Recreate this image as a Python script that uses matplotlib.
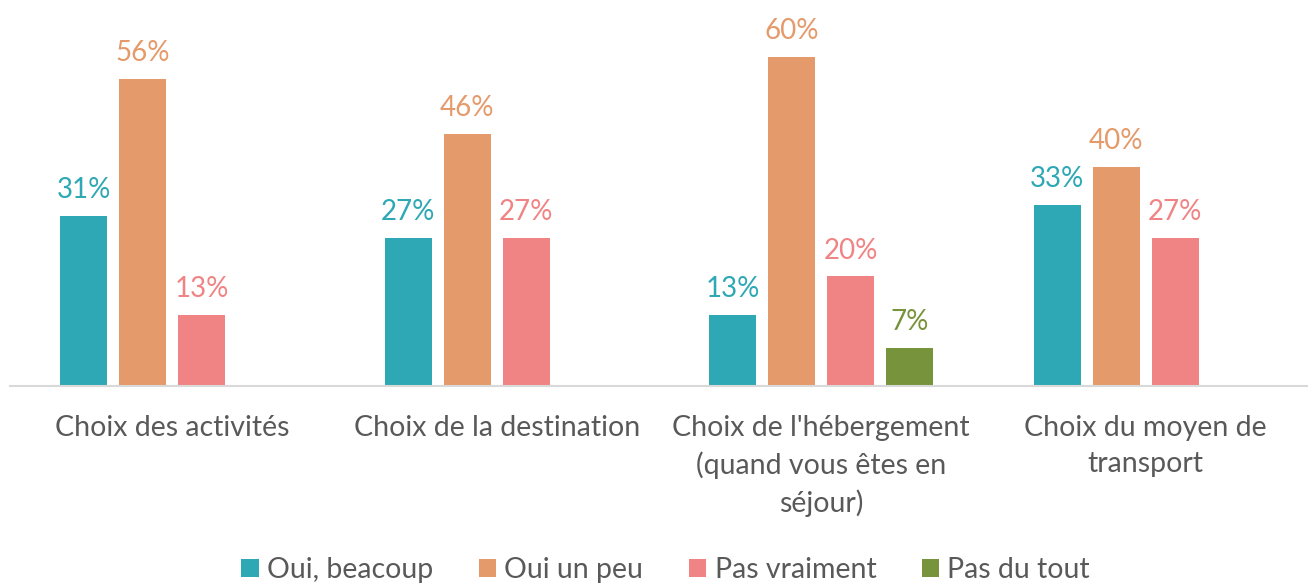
import matplotlib.pyplot as plt
import numpy as np

plt.rcParams['font.family'] = ['Lato', 'DejaVu Sans']

categories = ['Choix des activités', 'Choix de la destination',
              "Choix de l'hébergement\n(quand vous êtes en\nséjour)",
              'Choix du moyen de\ntransport']
series = ['Oui, beacoup', 'Oui un peu', 'Pas vraiment', 'Pas du tout']
values = [
    [31, 27, 13, 33],
    [56, 46, 60, 40],
    [13, 27, 20, 27],
    [0, 0, 7, 0],
]
colors = ['#2EA8B4', '#E59A6B', '#F08484', '#77933C']

fig = plt.figure(figsize=(13.08, 5.85), dpi=100)
ax = fig.add_axes([10/1308, 199/585, 1298/1308, 386/585])

x = np.arange(len(categories))
width = 0.145
step = 0.182
for i, (name, vals, col) in enumerate(zip(series, values, colors)):
    pos = x + (i - 1.5) * step
    ax.bar(pos, vals, width, color=col, label=name)
    for p, v in zip(pos, vals):
        if v > 0:
            ax.text(p, v + 2.3, f'{v}%', ha='center', va='bottom',
                    color=col, fontsize=20)

ax.set_xlim(-0.5, 3.5)
ax.set_ylim(0, 70.4)
ax.set_yticks([])
ax.set_xticks(x)
ax.set_xticklabels(categories, fontsize=20.5, color='#595959', linespacing=1.45)
ax.tick_params(axis='x', length=0, pad=21)
for s in ['top', 'right', 'left']:
    ax.spines[s].set_visible(False)
ax.spines['bottom'].set_color('#D9D9D9')
ax.spines['bottom'].set_linewidth(1.5)

leg = fig.legend(loc='lower center', ncol=4, frameon=False, fontsize=20.5,
                 bbox_to_anchor=(0.509, -0.04), handlelength=0.6, handleheight=0.6,
                 handletextpad=0.3, columnspacing=1.6)
for t in leg.get_texts():
    t.set_color('#595959')

fig.savefig('out.png', dpi=100)
